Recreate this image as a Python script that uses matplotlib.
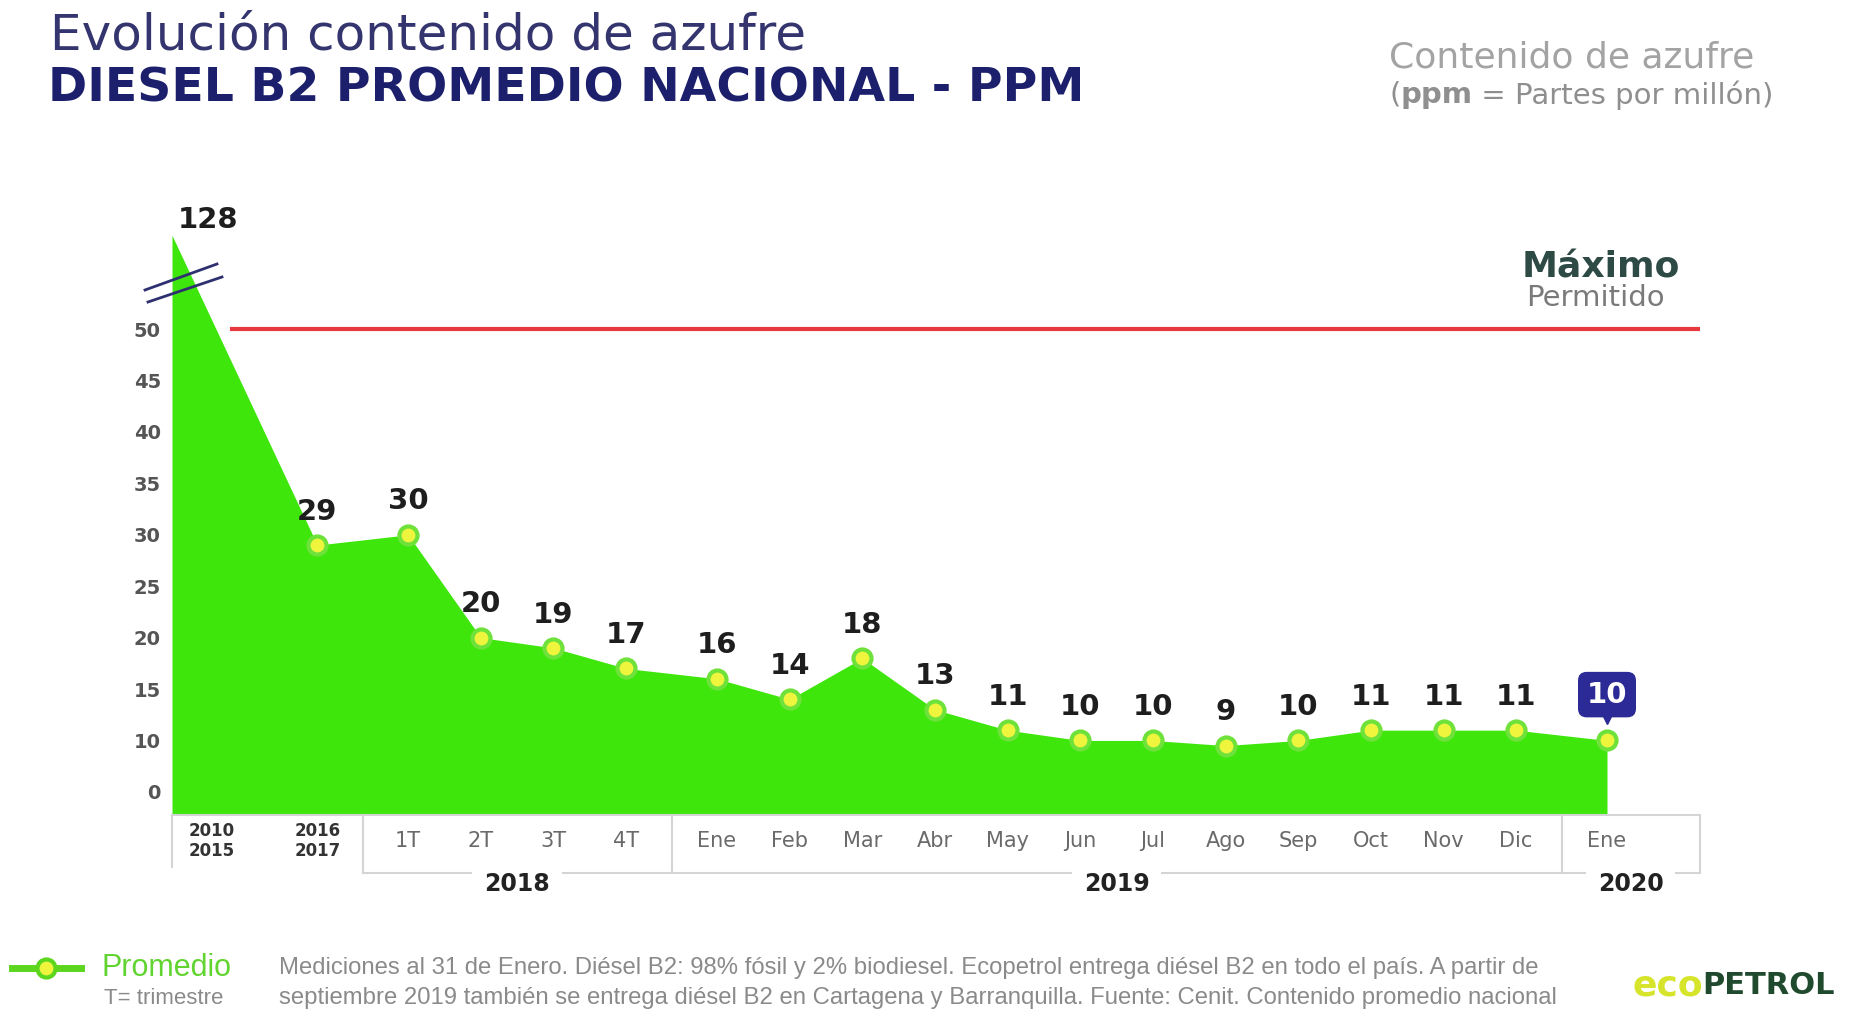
import numpy as np
import matplotlib
matplotlib.use("Agg")
import matplotlib.pyplot as plt
from matplotlib.lines import Line2D
from matplotlib.transforms import blended_transform_factory, ScaledTranslation

# data
categories = ["2010\n2015", "2016\n2017", "1T", "2T", "3T", "4T",
              "Ene", "Feb", "Mar", "Abr", "May", "Jun", "Jul", "Ago",
              "Sep", "Oct", "Nov", "Dic", "Ene"]
groups = ["", "", "2018", "2018", "2018", "2018",
          "2019", "2019", "2019", "2019", "2019", "2019", "2019", "2019",
          "2019", "2019", "2019", "2019", "2020"]
ppm = [128, 29, 30, 20, 19, 17, 16, 14, 18, 13, 11, 10, 10, 9, 10, 11, 11, 11, 10]
max_permitido = 50
ytick_values = [0, 10, 15, 20, 25, 30, 35, 40, 45, 50]

W, H = 1862, 1031
GREEN = "#3fe60c"
GRID = "#d4d4d4"


def fx(px):
    return px / W


def fy(py):
    return 1 - py / H


# broken y axis: values above 50 are squeezed, the "0" label sits half a step below 10
K = 0.117


def fwd(v):
    v = np.asarray(v, dtype=float)
    return np.where(v > 50, 50 + (v - 50) * K, np.where(v < 10, 5 + v / 2, v))


def inv(p):
    p = np.asarray(p, dtype=float)
    return np.where(p > 50, 50 + (p - 50) / K, np.where(p < 10, (p - 5) * 2, p))


# x positions: one step per category, a small gap between year groups
group_order = ["", "2018", "2019", "2020"]
group_idx = np.array([group_order.index(g) for g in groups])
x = np.arange(len(ppm)) + 0.25 * group_idx
x[0] -= 1.0  # the 2010-2015 span sits on the left edge
x_right = 20.03

fig = plt.figure(figsize=(W / 100, H / 100), dpi=100)
ax_bottom_px, ax_top_px = 815, 226
ax = fig.add_axes([fx(172), fy(ax_bottom_px), fx(1700 - 172), (ax_bottom_px - ax_top_px) / H])
ax.set_yscale("function", functions=(fwd, inv))
ax.set_xlim(x[0], x_right)
ax.set_ylim(-4.5, 135.7)

ax.fill_between(x, ppm, -4.5, color=GREEN, lw=0, zorder=2)
ax.plot(x[1:], ppm[1:], "o", ms=13, mfc="#eef53c", mec="#6ee23a", mew=3, zorder=4)

# maximum allowed
ax.axhline(max_permitido, xmin=0.039, xmax=1.0, color="#e8393f", lw=3, zorder=1)
fig.text(fx(1601), fy(267), "Máximo", ha="center", va="center", fontsize=26,
         fontweight="bold", color="#2e4a45")
fig.text(fx(1595), fy(298), "Permitido", ha="center", va="center", fontsize=21,
         color="#7a7a7a")

# value labels
for xi, v in zip(x[1:-1], ppm[1:-1]):
    ax.annotate(str(v), (xi, v), xytext=(0, 24), textcoords="offset points",
                ha="center", va="center", fontsize=21, fontweight="bold", color="#1e1e1e")
ax.annotate(str(ppm[0]), (x[0], ppm[0]), xytext=(26, 11), textcoords="offset points",
            ha="center", va="center", fontsize=21, fontweight="bold", color="#1e1e1e")
ax.annotate(str(ppm[-1]), (x[-1], ppm[-1]), xytext=(0, 33), textcoords="offset points",
            ha="center", va="center", fontsize=21, fontweight="bold", color="white",
            bbox=dict(boxstyle="round,pad=0.3", fc="#2b2a96", ec="none"))
ax.plot([x[-1]], [ppm[-1]], marker="v", ms=10, color="#2b2a96", lw=0,
        transform=ax.transData + ScaledTranslation(0, 17 / 72, fig.dpi_scale_trans),
        zorder=5)

# y ticks
ax.set_yticks(ytick_values)
ax.set_yticklabels([str(t) for t in ytick_values], fontsize=14, fontweight="bold", color="#555555")
ax.tick_params(axis="y", length=0, pad=8)
ax.set_xticks([])
for s in ax.spines.values():
    s.set_visible(False)

# category row and year boxes under the plot
tr = blended_transform_factory(ax.transData, ax.transAxes)
ax_h = ax_bottom_px - ax_top_px


def ay(py):
    return (ax_bottom_px - py) / ax_h


ax.plot([x[0], x_right], [0, 0], color=GRID, lw=1.5, transform=tr, clip_on=False)
ax.plot([x[0], x[0]], [0, ay(867)], color=GRID, lw=1.5, transform=tr, clip_on=False)
bounds = []
for g in group_order[1:]:
    idx = np.where(group_idx == group_order.index(g))[0]
    bounds.append((x[idx[0] - 1] + x[idx[0]]) / 2)
bounds.append(x_right)
for b in bounds:
    ax.plot([b, b], [0, ay(873)], color=GRID, lw=1.5, transform=tr, clip_on=False)
ax.plot([bounds[0], bounds[-1]], [ay(873)] * 2, color=GRID, lw=1.5, transform=tr, clip_on=False)
for g, l, r in zip(group_order[1:], bounds[:-1], bounds[1:]):
    ax.text((l + r) / 2, ay(884), g, transform=tr, ha="center", va="center", fontsize=17,
            fontweight="bold", color="#222222",
            bbox=dict(boxstyle="square,pad=0.5", fc="white", ec="none"))

for i, (xi, c) in enumerate(zip(x, categories)):
    if "\n" in c:
        xc = xi + 0.55 if i == 0 else xi
        ax.text(xc, ay(841), c, transform=tr, ha="center", va="center", fontsize=12,
                fontweight="bold", color="#333333", linespacing=1.1)
    else:
        ax.text(xi, ay(841), c, transform=tr, ha="center", va="center", fontsize=15,
                color="#6a6a6a")

# axis break marks
for (x0, y0, x1, y1) in [(145, 290, 217, 264), (148, 302, 222, 277)]:
    fig.add_artist(Line2D([fx(x0), fx(x1)], [fy(y0), fy(y1)], color="#2e3070", lw=2))

# header
fig.text(fx(50), fy(36), "Evolución contenido de azufre", fontsize=36, color="#34356e",
         va="center")
fig.text(fx(48), fy(89), "DIESEL B2 PROMEDIO NACIONAL - PPM", fontsize=34, color="#1c1f6b",
         fontweight="heavy", va="center")
fig.text(fx(1389), fy(57), "Contenido de azufre", fontsize=26, color="#a3a3a3", va="center")
t1 = fig.text(fx(1389), fy(95), "(", fontsize=21, color="#8f8f8f", va="center")
t2 = ax.annotate("ppm", xy=(1, 0.5), xycoords=t1, va="center", fontsize=21, color="#8f8f8f",
                 fontweight="bold", annotation_clip=False)
ax.annotate(" = Partes por millón)", xy=(1, 0.5), xycoords=t2, va="center", fontsize=21,
            color="#8f8f8f", annotation_clip=False)

# footer: legend, note and logo
fig.add_artist(Line2D([fx(12), fx(81)], [fy(968), fy(968)], color="#5cd61f", lw=5))
fig.add_artist(Line2D([fx(46)], [fy(968)], marker="o", ms=13, mfc="#eef53c",
                      mec="#5cd61f", mew=3, lw=0))
fig.text(fx(101), fy(968), "Promedio", fontsize=22, color="#62d431", va="center",
         family="Liberation Sans")
fig.text(fx(104), fy(998), "T= trimestre", fontsize=16, color="#8a8a8a", va="center",
         family="Liberation Sans")
fig.text(fx(279), fy(968),
         "Mediciones al 31 de Enero. Diésel B2: 98% fósil y 2% biodiesel. Ecopetrol entrega "
         "diésel B2 en todo el país. A partir de",
         fontsize=17.2, color="#8a8a8a", va="center", family="Liberation Sans")
fig.text(fx(279), fy(998),
         "septiembre 2019 también se entrega diésel B2 en Cartagena y Barranquilla. Fuente: "
         "Cenit. Contenido promedio nacional",
         fontsize=17.2, color="#8a8a8a", va="center", family="Liberation Sans")
eco = fig.text(fx(1632), fy(985), "eco", fontsize=26, color="#d6e52c", fontweight="bold",
               va="center")
ax.annotate("PETROL", xy=(1, 0.5), xycoords=eco, va="center", fontsize=22,
            color="#1f4a2e", fontweight="bold", annotation_clip=False)

fig.savefig("out.png", dpi=100, facecolor="white")
